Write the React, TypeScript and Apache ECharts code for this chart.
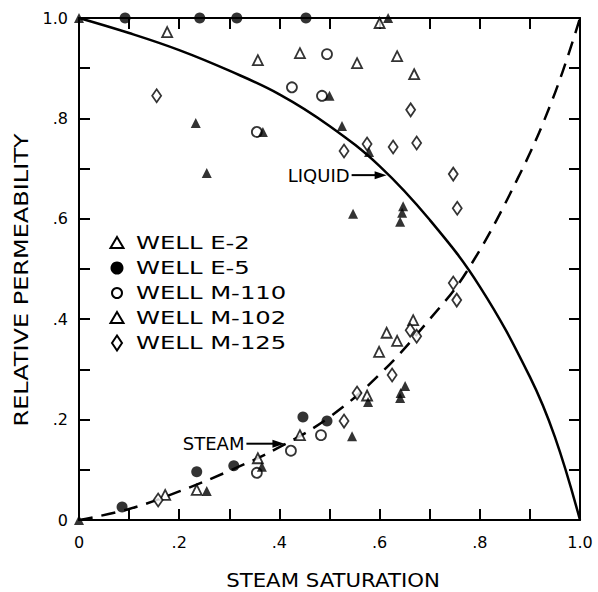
import React, { useEffect, useRef } from 'react';
import * as echarts from 'echarts';

const AXIS_TICK_LABELS = ['0', '.2', '.4', '.6', '.8', '1.0'];

const wellE2: number[][] = [
  [0.176, 0.972], [0.357, 0.916], [0.441, 0.93], [0.555, 0.91], [0.635, 0.924], [0.669, 0.888],
  [0.6, 0.99], [0.667, 0.398], [0.614, 0.373], [0.635, 0.357], [0.599, 0.335], [0.575, 0.248],
  [0.441, 0.169], [0.357, 0.123], [0.235, 0.06], [0.172, 0.05],
];
const wellE5: number[][] = [
  [0.092, 1.0], [0.241, 1.0], [0.315, 1.0], [0.453, 1.0], [0.447, 0.205], [0.495, 0.197],
  [0.235, 0.096], [0.309, 0.108], [0.086, 0.026],
];
const wellM110: number[][] = [
  [0.495, 0.928], [0.425, 0.862], [0.485, 0.845], [0.355, 0.773], [0.483, 0.169], [0.423, 0.138],
  [0.355, 0.094],
];
const wellM102: number[][] = [
  [0.5, 0.845], [0.367, 0.773], [0.233, 0.791], [0.255, 0.691], [0.525, 0.785], [0.617, 1.0],
  [0.579, 0.733], [0.547, 0.61], [0.647, 0.625], [0.645, 0.612], [0.641, 0.594], [0.651, 0.267],
  [0.641, 0.243], [0.642, 0.253], [0.577, 0.235], [0.545, 0.167], [0.365, 0.106], [0.255, 0.058],
  [0, 0], [0, 1],
];
const wellM125: number[][] = [
  [0.155, 0.845], [0.662, 0.817], [0.674, 0.751], [0.627, 0.743], [0.575, 0.749], [0.529, 0.735],
  [0.747, 0.689], [0.755, 0.621], [0.747, 0.472], [0.754, 0.438], [0.661, 0.378], [0.674, 0.366],
  [0.625, 0.289], [0.555, 0.253], [0.529, 0.197], [0.158, 0.04],
];

const liquidCurve: number[][] = [
  [0, 1], [0.1, 0.97], [0.2, 0.936], [0.3, 0.895], [0.4, 0.848], [0.5, 0.785], [0.6, 0.705],
  [0.7, 0.598], [0.8, 0.465], [0.9, 0.285], [0.95, 0.165], [1, 0],
];
const steamCurve: number[][] = [
  [0, 0], [0.1, 0.022], [0.2, 0.057], [0.3, 0.098], [0.4, 0.145], [0.5, 0.205], [0.6, 0.29],
  [0.7, 0.4], [0.774, 0.495], [0.874, 0.677], [0.946, 0.84], [1, 1],
];

const LEGEND_NAMES = ['WELL E-2', 'WELL E-5', 'WELL M-110', 'WELL M-102', 'WELL M-125'];
const steamArrowTip = [0.41, 0.152];
const liquidArrowTip = [0.614, 0.687];

const FONT = '"DejaVu Sans", sans-serif';
const BLACK = '#000';

export default function App() {
  const ref = useRef<HTMLDivElement>(null);
  useEffect(() => {
    document.body.style.margin = '0';
    const chart = echarts.init(ref.current!, null, { renderer: 'svg' });
    const fmt = (v: number) => {
      const r = Math.round(v * 10);
      return r % 2 ? '' : AXIS_TICK_LABELS[r / 2];
    };
    const axisBase: any = {
      type: 'value', min: 0, max: 1, interval: 0.1,
      axisLine: { show: true, onZero: false, lineStyle: { color: BLACK, width: 2 } },
      axisTick: { show: true, inside: true, length: 11, lineStyle: { color: BLACK, width: 2 } },
      splitLine: { show: false },
    };
    const labelBase = { color: BLACK, fontSize: 16, fontFamily: FONT, formatter: fmt };
    const openStyle = { color: '#fff', borderColor: BLACK, borderWidth: 1.8 };
    const filledStyle = { color: BLACK, borderColor: BLACK, borderWidth: 0 };

    const option: any = {
      animation: false,
      backgroundColor: '#fff',
      grid: { left: 79, top: 18, width: 501, height: 502 },
      xAxis: [
        { ...axisBase, position: 'bottom', axisLabel: { ...labelBase, margin: 14 } },
        { ...axisBase, position: 'top', axisLabel: { show: false } },
      ],
      yAxis: [
        { ...axisBase, position: 'left', axisLabel: { ...labelBase, margin: 11 } },
        { ...axisBase, position: 'right', axisLabel: { show: false } },
      ],
      series: [
        {
          name: 'LIQUID', type: 'line', data: liquidCurve, smooth: 0.4, showSymbol: false,
          lineStyle: { color: BLACK, width: 2.5 }, z: 1,
        },
        {
          name: 'STEAM', type: 'line', data: steamCurve, smooth: 0.4, showSymbol: false,
          lineStyle: { color: BLACK, width: 2.5, type: [14, 9] }, z: 1,
        },
        { name: LEGEND_NAMES[0], type: 'scatter', data: wellE2, symbol: 'triangle', symbolSize: 10, itemStyle: openStyle, z: 3 },
        { name: LEGEND_NAMES[1], type: 'scatter', data: wellE5, symbol: 'circle', symbolSize: 11, itemStyle: filledStyle, z: 3 },
        { name: LEGEND_NAMES[2], type: 'scatter', data: wellM110, symbol: 'circle', symbolSize: 10, itemStyle: openStyle, z: 3 },
        { name: LEGEND_NAMES[3], type: 'scatter', data: wellM102, symbol: 'triangle', symbolSize: 10, itemStyle: filledStyle, z: 4 },
        { name: LEGEND_NAMES[4], type: 'scatter', data: wellM125, symbol: 'diamond', symbolSize: [9, 13], itemStyle: openStyle, z: 3 },
      ],
    };
    chart.setOption(option);

    const px = (d: number[]) => chart.convertToPixel({ xAxisIndex: 0, yAxisIndex: 0 }, d) as number[];
    const st = px(steamArrowTip);
    const lq = px(liquidArrowTip);
    const arrow = (tip: number[], len: number) => [
      { type: 'line', shape: { x1: tip[0] - len, y1: tip[1], x2: tip[0] - 8, y2: tip[1] }, style: { stroke: BLACK, lineWidth: 2 } },
      { type: 'polygon', shape: { points: [[tip[0], tip[1]], [tip[0] - 12, tip[1] - 4], [tip[0] - 12, tip[1] + 4]] }, style: { fill: BLACK } },
    ];
    const textStyle = (text: string, size: number, align: string = 'left') => ({
      text, fill: BLACK, font: `${size}px ${FONT}`, textAlign: align, textVerticalAlign: 'middle',
    });

    const legendX = 117;
    const legendY0 = 243;
    const legendGap = 25;
    const legendMarkers: any[] = [
      { type: 'polygon', shape: { points: [[0, -6], [6.5, 5], [-6.5, 5]] }, style: { fill: '#fff', stroke: BLACK, lineWidth: 2 } },
      { type: 'circle', shape: { cx: 0, cy: 0, r: 6.5 }, style: { fill: BLACK } },
      { type: 'circle', shape: { cx: 0, cy: 0, r: 5 }, style: { fill: '#fff', stroke: BLACK, lineWidth: 2 } },
      { type: 'polygon', shape: { points: [[0, -6], [6.5, 5], [-6.5, 5]] }, style: { fill: '#fff', stroke: BLACK, lineWidth: 2 } },
      { type: 'polygon', shape: { points: [[0, -7.5], [5, 0], [0, 7.5], [-5, 0]] }, style: { fill: '#fff', stroke: BLACK, lineWidth: 2 } },
    ];
    const legendElems: any[] = [];
    LEGEND_NAMES.forEach((name, i) => {
      const y = legendY0 + i * legendGap;
      legendElems.push({ ...legendMarkers[i], x: legendX, y });
      legendElems.push({ type: 'text', x: 136, y, scaleX: 1.35, style: textStyle(name, 18) });
    });

    chart.setOption({
      graphic: [
        { type: 'text', x: 333, y: 580, scaleX: 1.12, style: textStyle('STEAM SATURATION', 19, 'center') },
        { type: 'text', x: 21, y: 280, rotation: Math.PI / 2, scaleX: 1.2, style: textStyle('RELATIVE PERMEABILITY', 20, 'center') },
        { type: 'text', x: st[0] - 40, y: st[1], style: textStyle('STEAM', 18, 'right') },
        ...arrow(st, 38),
        { type: 'text', x: lq[0] - 37, y: lq[1], style: textStyle('LIQUID', 18, 'right') },
        ...arrow(lq, 35),
        ...legendElems,
      ],
    });

    return () => chart.dispose();
  }, []);
  return <div ref={ref} style={{ position: 'fixed', left: 0, top: 0, width: 598, height: 592 }} />;
}
